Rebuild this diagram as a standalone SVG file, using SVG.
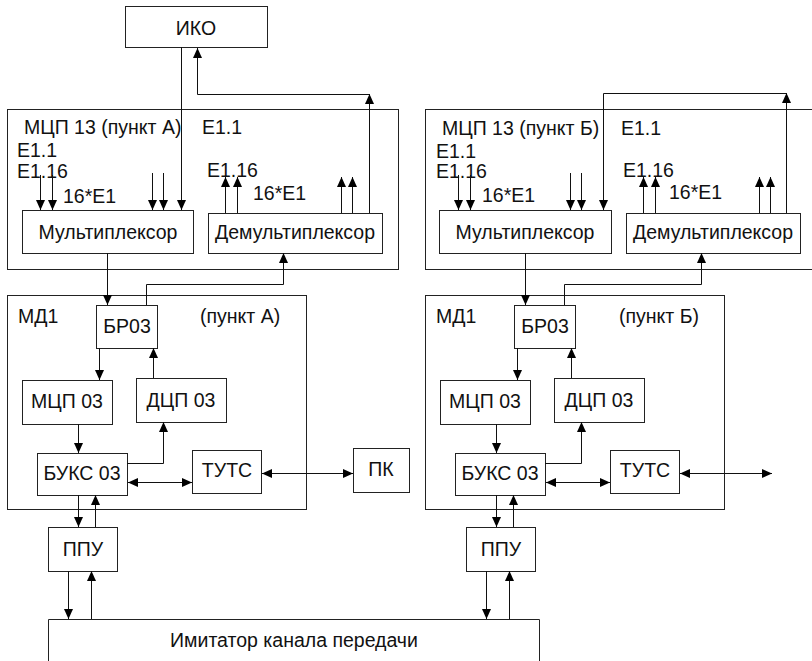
<svg xmlns="http://www.w3.org/2000/svg" width="812" height="661" viewBox="0 0 812 661">
<style>
.b{fill:#fff;stroke:#222;stroke-width:1}
.f{fill:none;stroke:#222;stroke-width:1}
.c{fill:none;stroke:#111;stroke-width:1;marker-end:url(#a)}
.d{fill:none;stroke:#111;stroke-width:1;marker-end:url(#a);marker-start:url(#s)}
text{font-family:"Liberation Sans",Arial,sans-serif;font-size:19.5px;fill:#111}
.m{text-anchor:middle}
</style>
<defs>
<marker id="a" markerUnits="userSpaceOnUse" markerWidth="11" markerHeight="10" refX="10" refY="4.5" orient="auto"><path d="M0,0 L10,4.5 L0,9 z" fill="#000"/></marker>
<marker id="s" markerUnits="userSpaceOnUse" markerWidth="11" markerHeight="10" refX="10" refY="4.5" orient="auto-start-reverse"><path d="M0,0 L10,4.5 L0,9 z" fill="#000"/></marker>
</defs>
<rect width="812" height="661" fill="#fff"/>

<g id="mcp13A"><rect class="b" x="7.5" y="109.5" width="391" height="160"/>
<text x="24" y="134">МЦП 13 (пункт А)</text><text x="202" y="134">E1.1</text>
<text x="17" y="157">E1.1</text><text x="17" y="178">E1.16</text><text x="63" y="203">16*E1</text>
<text x="207" y="177">E1.16</text><text x="253" y="200">16*E1</text></g>
<g id="mcp13B"><rect class="b" x="425.5" y="109.5" width="400" height="160"/>
<text x="442" y="135">МЦП 13 (пункт Б)</text><text x="621" y="135">E1.1</text>
<text x="436" y="158">E1.1</text><text x="436" y="178">E1.16</text><text x="482" y="202">16*E1</text>
<text x="623" y="177">E1.16</text><text x="669" y="199">16*E1</text></g>
<g id="md1A"><rect class="b" x="7.5" y="295.5" width="299" height="214"/>
<text x="18" y="323">МД1</text><text x="200" y="323">(пункт А)</text></g>
<g id="md1B"><rect class="b" x="425.5" y="295.5" width="299" height="214"/>
<text x="436" y="323">МД1</text><text x="619" y="323">(пункт Б)</text></g>

<g id="iko"><rect class="b" x="125.5" y="6.5" width="142" height="41"/><text class="m" x="196" y="35">ИКО</text></g>
<g id="muxA"><rect class="b" x="22.5" y="210.5" width="171" height="43"/><text class="m" x="108" y="239">Мультиплексор</text></g>
<g id="demuxA"><rect class="b" x="208.5" y="213.5" width="174" height="40"/><text class="m" x="295" y="239">Демультиплексор</text></g>
<g id="muxB"><rect class="b" x="439.5" y="210.5" width="172" height="43"/><text class="m" x="525" y="239">Мультиплексор</text></g>
<g id="demuxB"><rect class="b" x="626.5" y="213.5" width="174" height="40"/><text class="m" x="713" y="239">Демультиплексор</text></g>

<g id="br03A"><rect class="b" x="96.5" y="305.5" width="61" height="43"/><text class="m" x="127" y="333">БР03</text></g>
<g id="mcp03A"><rect class="b" x="22.5" y="380.5" width="90" height="44"/><text class="m" x="67" y="408">МЦП 03</text></g>
<g id="dcp03A"><rect class="b" x="136.5" y="378.5" width="90" height="44"/><text class="m" x="181" y="407">ДЦП 03</text></g>
<g id="buks03A"><rect class="b" x="37.5" y="453.5" width="90" height="42"/><text class="m" x="82" y="480">БУКС 03</text></g>
<g id="tutsA"><rect class="b" x="192.5" y="450.5" width="69" height="43"/><text class="m" x="227" y="477">ТУТС</text></g>
<g id="pk"><rect class="b" x="353.5" y="448.5" width="56" height="44"/><text class="m" x="381" y="476">ПК</text></g>
<g id="ppuA"><rect class="b" x="48.5" y="527.5" width="69" height="44"/><text class="m" x="83" y="556">ППУ</text></g>

<g id="br03B"><rect class="b" x="514.5" y="305.5" width="61" height="43"/><text class="m" x="545" y="333">БР03</text></g>
<g id="mcp03B"><rect class="b" x="440.5" y="380.5" width="90" height="44"/><text class="m" x="485" y="408">МЦП 03</text></g>
<g id="dcp03B"><rect class="b" x="554.5" y="378.5" width="90" height="44"/><text class="m" x="599" y="407">ДЦП 03</text></g>
<g id="buks03B"><rect class="b" x="455.5" y="453.5" width="90" height="42"/><text class="m" x="500" y="480">БУКС 03</text></g>
<g id="tutsB"><rect class="b" x="610.5" y="450.5" width="69" height="43"/><text class="m" x="645" y="477">ТУТС</text></g>
<g id="ppuB"><rect class="b" x="466.5" y="527.5" width="69" height="44"/><text class="m" x="501" y="556">ППУ</text></g>

<g id="imitator"><path class="f" d="M48.5,661 V619.5 H539.5 V661"/><text class="m" x="294" y="647">Имитатор канала передачи</text></g>

<g id="connectors">
<path class="c" d="M181.5,47 V210"/>
<path class="c" d="M369.5,213 V94"/>
<path class="c" d="M369.5,94.5 H197.5 V48"/>
<path class="c" d="M40.5,175 V210"/><path class="c" d="M52.5,175 V210"/>
<path class="c" d="M152.5,173 V210"/><path class="c" d="M163.5,173 V210"/>
<path class="c" d="M225.5,213 V177"/><path class="c" d="M237.5,213 V177"/>
<path class="c" d="M341.5,213 V177"/><path class="c" d="M352.5,213 V177"/>
<path class="c" d="M107.5,253 V305"/>
<path class="c" d="M146.5,305 V284.5 H283.5 V253"/>
<path class="c" d="M99.5,348 V380"/>
<path class="c" d="M153.5,378 V348"/>
<path class="c" d="M78.5,424 V453"/>
<path class="c" d="M127,463.5 H163.5 V422"/>
<path class="d" d="M128,482.5 H192"/>
<path class="d" d="M262,473.5 H353"/>
<path class="c" d="M78.5,495 V527"/><path class="c" d="M95.5,527 V495"/>
<path class="c" d="M68.5,571 V619"/><path class="c" d="M91.5,619 V571"/>

<path class="c" d="M786.5,213 V93"/>
<path class="c" d="M786.5,93.5 H603.5 V210"/>
<path class="c" d="M458.5,175 V210"/><path class="c" d="M470.5,175 V210"/>
<path class="c" d="M570.5,173 V210"/><path class="c" d="M581.5,173 V210"/>
<path class="c" d="M643.5,213 V177"/><path class="c" d="M655.5,213 V177"/>
<path class="c" d="M759.5,213 V177"/><path class="c" d="M770.5,213 V177"/>
<path class="c" d="M525.5,253 V305"/>
<path class="c" d="M564.5,305 V284.5 H701.5 V253"/>
<path class="c" d="M517.5,348 V380"/>
<path class="c" d="M571.5,378 V348"/>
<path class="c" d="M496.5,424 V453"/>
<path class="c" d="M545,463.5 H581.5 V422"/>
<path class="d" d="M546,482.5 H610"/>
<path class="d" d="M680,473.5 H772"/>
<path class="c" d="M496.5,495 V527"/><path class="c" d="M513.5,527 V495"/>
<path class="c" d="M486.5,571 V619"/><path class="c" d="M509.5,619 V571"/>
</g>
</svg>
